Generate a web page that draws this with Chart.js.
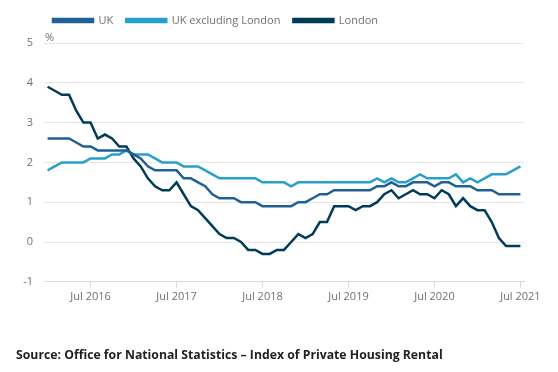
<!DOCTYPE html>
<html><head><meta charset="utf-8">
<script src="https://cdn.jsdelivr.net/npm/chart.js@4.4.1/dist/chart.umd.min.js"></script>
<style>
html,body{margin:0;padding:0;background:#fff;}
#wrap{position:relative;width:558px;height:372px;overflow:hidden;}
#c{position:absolute;left:0;top:0;}
#src{position:absolute;left:16px;top:346px;font:bold 12.25px "Open Sans",sans-serif;color:#222;white-space:nowrap;}
</style></head><body>
<div id="wrap"><canvas id="c" width="558" height="372"></canvas>
<div id="src">Source: Office for National Statistics – Index of Private Housing Rental</div></div>
<script>
const months = [
"Jan 2016","Feb 2016","Mar 2016","Apr 2016","May 2016","Jun 2016","Jul 2016","Aug 2016","Sep 2016","Oct 2016","Nov 2016","Dec 2016",
"Jan 2017","Feb 2017","Mar 2017","Apr 2017","May 2017","Jun 2017","Jul 2017","Aug 2017","Sep 2017","Oct 2017","Nov 2017","Dec 2017",
"Jan 2018","Feb 2018","Mar 2018","Apr 2018","May 2018","Jun 2018","Jul 2018","Aug 2018","Sep 2018","Oct 2018","Nov 2018","Dec 2018",
"Jan 2019","Feb 2019","Mar 2019","Apr 2019","May 2019","Jun 2019","Jul 2019","Aug 2019","Sep 2019","Oct 2019","Nov 2019","Dec 2019",
"Jan 2020","Feb 2020","Mar 2020","Apr 2020","May 2020","Jun 2020","Jul 2020","Aug 2020","Sep 2020","Oct 2020","Nov 2020","Dec 2020",
"Jan 2021","Feb 2021","Mar 2021","Apr 2021","May 2021","Jun 2021","Jul 2021"];
const tickLabels = ["Jul 2016","Jul 2017","Jul 2018","Jul 2019","Jul 2020","Jul 2021"];
const uk = [
2.6,2.6,2.6,2.6,2.5,2.4,2.4,2.3,2.3,2.3,2.3,2.3,
2.2,2.1,1.9,1.8,1.8,1.8,1.8,1.6,1.6,1.5,1.4,1.2,
1.1,1.1,1.1,1.0,1.0,1.0,0.9,0.9,0.9,0.9,0.9,1.0,
1.0,1.1,1.2,1.2,1.3,1.3,1.3,1.3,1.3,1.3,1.4,1.4,
1.5,1.4,1.4,1.5,1.5,1.5,1.4,1.5,1.5,1.4,1.4,1.4,
1.3,1.3,1.3,1.2,1.2,1.2,1.2];
const ukExLondon = [
1.8,1.9,2.0,2.0,2.0,2.0,2.1,2.1,2.1,2.2,2.2,2.3,
2.2,2.2,2.2,2.1,2.0,2.0,2.0,1.9,1.9,1.9,1.8,1.7,
1.6,1.6,1.6,1.6,1.6,1.6,1.5,1.5,1.5,1.5,1.4,1.5,
1.5,1.5,1.5,1.5,1.5,1.5,1.5,1.5,1.5,1.5,1.6,1.5,
1.6,1.5,1.5,1.6,1.7,1.6,1.6,1.6,1.6,1.7,1.5,1.6,
1.5,1.6,1.7,1.7,1.7,1.8,1.9];
const london = [
3.9,3.8,3.7,3.7,3.3,3.0,3.0,2.6,2.7,2.6,2.4,2.4,
2.1,1.9,1.6,1.4,1.3,1.3,1.5,1.2,0.9,0.8,0.6,0.4,
0.2,0.1,0.1,0.0,-0.2,-0.2,-0.3,-0.3,-0.2,-0.2,0.0,0.2,
0.1,0.2,0.5,0.5,0.9,0.9,0.9,0.8,0.9,0.9,1.0,1.2,
1.3,1.1,1.2,1.3,1.2,1.2,1.1,1.3,1.2,0.9,1.1,0.9,
0.8,0.8,0.5,0.1,-0.1,-0.1,-0.1];
const yMin = -1, yMax = 5, yStep = 1;

const percentLabel = {
  id: 'percentLabel',
  afterLayout(chart) {
    // place the legend row like the reference (aligned near the plot, slightly higher)
    chart.legend.left += 28;
    chart.legend.right += 28;
    chart.legend.top -= 7;
    chart.legend.bottom -= 7;
  },
  afterDraw(chart) {
    const {ctx, chartArea} = chart;
    ctx.save();
    ctx.font = '11px "Open Sans"';
    ctx.fillStyle = '#707070';
    ctx.textAlign = 'left';
    ctx.textBaseline = 'alphabetic';
    ctx.fillText('%', chartArea.left + 1, chartArea.top - 2);
    ctx.restore();
  }
};

const font = {family: '"Open Sans", sans-serif', size: 11};
new Chart(document.getElementById('c'), {
  type: 'line',
  data: {
    labels: months,
    datasets: [
      {label: 'UK', data: uk, borderColor: '#206095', backgroundColor: '#206095'},
      {label: 'UK excluding London', data: ukExLondon, borderColor: '#27a0cc', backgroundColor: '#27a0cc'},
      {label: 'London', data: london, borderColor: '#003c57', backgroundColor: '#003c57'}
    ]
  },
  options: {
    responsive: false,
    animation: false,
    devicePixelRatio: 1,
    layout: {padding: {left: 12, right: 34, top: 9, bottom: 67}},
    elements: {
      line: {borderWidth: 2.5, tension: 0, borderJoinStyle: 'miter'},
      point: {radius: 0, hoverRadius: 0}
    },
    plugins: {
      legend: {
        position: 'top', align: 'start',
        labels: {boxWidth: 40, boxHeight: 3, padding: 13, color: '#707070', font: font}
      },
      tooltip: {enabled: false}
    },
    scales: {
      x: {
        type: 'category',
        offset: true,
        grid: {
          drawOnChartArea: false, drawTicks: true, tickLength: 6,
          color: ctx => (ctx.tick && tickLabels.includes(months[ctx.index])) ? '#d3dbe8' : 'rgba(0,0,0,0)'
        },
        border: {display: true, color: '#d3dbe8', width: 1},
        ticks: {
          autoSkip: false, maxRotation: 0, padding: 2, color: '#707070', font: font,
          callback: (v, i) => tickLabels.includes(months[i]) ? months[i] : ''
        }
      },
      y: {
        min: yMin, max: yMax,
        afterFit: s => { s.width = 32; },
        grid: {color: '#e6e6e6', drawTicks: false},
        border: {display: false},
        ticks: {stepSize: yStep, padding: 11, color: '#707070', font: font}
      }
    }
  },
  plugins: [percentLabel]
});
</script>
</body></html>
